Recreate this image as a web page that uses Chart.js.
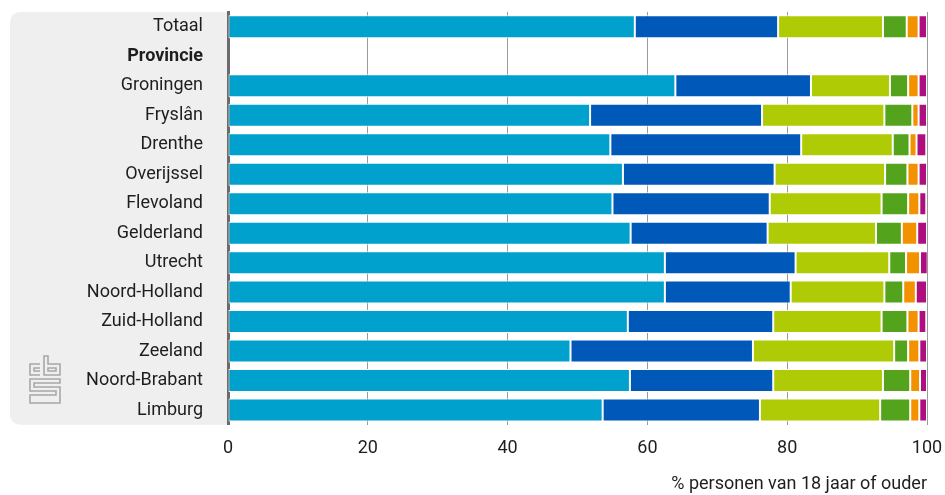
<!DOCTYPE html>
<html>
<head>
<meta charset="utf-8">
<script src="https://cdn.jsdelivr.net/npm/chart.js@4"></script>
<style>
  html, body { margin: 0; padding: 0; background: #fff; }
  #wrap { width: 945px; height: 495px; }
</style>
</head>
<body>
<div id="wrap"><canvas id="chart" width="945" height="495"></canvas></div>
<script>
const categories = ["Totaal", "Provincie", "Groningen", "Fryslân", "Drenthe", "Overijssel", "Flevoland",
  "Gelderland", "Utrecht", "Noord-Holland", "Zuid-Holland", "Zeeland", "Noord-Brabant", "Limburg"];

// six stacked parts per row, header row "Provincie" has no data
const serie1 = [58.2, null, 64.0, 51.8, 54.7, 56.5, 55.0, 57.6, 62.5, 62.5, 57.2, 49.0, 57.5, 53.6];
const serie2 = [20.5, null, 19.4, 24.6, 27.3, 21.7, 22.5, 19.6, 18.7, 18.0, 20.8, 26.1, 20.5, 22.5];
const serie3 = [15.0, null, 11.3, 17.5, 13.1, 15.8, 16.0, 15.5, 13.4, 13.4, 15.5, 20.2, 15.7, 17.2];
const serie4 = [3.4, null, 2.6, 4.0, 2.4, 3.2, 3.8, 3.7, 2.4, 2.7, 3.7, 2.0, 3.9, 4.3];
const serie5 = [1.7, null, 1.5, 0.9, 1.0, 1.6, 1.6, 2.2, 2.0, 1.8, 1.6, 1.6, 1.4, 1.3];
const serie6 = [1.2, null, 1.2, 1.2, 1.4, 1.2, 1.0, 1.4, 1.1, 1.6, 1.1, 1.1, 1.0, 1.1];

const xTicks = [0, 20, 40, 60, 80, 100];
const axisTitle = "% personen van 18 jaar of ouder";

const colors = ["#00a1cd", "#0058b8", "#afcb05", "#53a31d", "#f39200", "#af0e80"];
const series = [serie1, serie2, serie3, serie4, serie5, serie6];

const FONT = "Roboto, 'Noto Sans', sans-serif";

// grey label panel and cbs logo behind the category labels
const panelPlugin = {
  id: "panel",
  beforeDraw(chart) {
    const c = chart.ctx;
    const a = chart.chartArea;
    c.save();
    c.fillStyle = "#efefef";
    c.beginPath();
    c.roundRect(10, a.top, a.left - 10, a.bottom - a.top, [10, 0, 0, 10]);
    c.fill();

    // logo
    c.strokeStyle = "#a8a8a8";
    c.lineWidth = 1.6;
    c.beginPath();
    // c
    c.moveTo(40, 364); c.lineTo(30, 364); c.lineTo(30, 375); c.lineTo(40, 375);
    c.moveTo(40, 368); c.lineTo(34, 368); c.lineTo(34, 371); c.lineTo(40, 371);
    // b
    c.moveTo(44, 356); c.lineTo(44, 375); c.lineTo(60, 375); c.lineTo(60, 364); c.lineTo(48, 364); c.lineTo(48, 356); c.closePath();
    c.moveTo(48, 368); c.lineTo(56, 368); c.lineTo(56, 371); c.lineTo(48, 371); c.closePath();
    // s
    c.moveTo(60, 379); c.lineTo(30, 379); c.lineTo(30, 391); c.lineTo(56, 391); c.lineTo(56, 395);
    c.lineTo(30, 395); c.lineTo(30, 403); c.lineTo(60, 403); c.lineTo(60, 387); c.lineTo(34, 387);
    c.lineTo(34, 383); c.lineTo(60, 383); c.closePath();
    c.stroke();
    c.restore();
  }
};

new Chart(document.getElementById("chart"), {
  type: "bar",
  data: {
    labels: categories,
    datasets: series.map((d, i) => ({
      label: "serie " + (i + 1),
      data: d,
      backgroundColor: colors[i],
      borderColor: "#ffffff",
      borderWidth: 1,
      borderSkipped: false,
      categoryPercentage: 1,
      barPercentage: 0.78
    }))
  },
  options: {
    indexAxis: "y",
    responsive: false,
    animation: false,
    layout: { padding: { top: 12, right: 18, bottom: 0, left: 0 } },
    plugins: {
      legend: { display: false },
      tooltip: { enabled: true }
    },
    scales: {
      x: {
        stacked: true,
        min: 0,
        max: 100,
        afterBuildTicks(scale) {
          scale.ticks = xTicks.map(v => ({ value: v }));
        },
        grid: { color: "#9a9a9a", tickColor: "transparent", drawTicks: true, tickLength: 13, lineWidth: 1 },
        border: { display: false },
        ticks: { color: "#1e1e1e", padding: 0, font: { family: FONT, size: 18 } },
        title: {
          display: true,
          text: axisTitle,
          align: "end",
          color: "#1e1e1e",
          padding: { top: 14, bottom: 0 },
          font: { family: FONT, size: 18 }
        }
      },
      y: {
        stacked: true,
        afterFit(scale) { scale.width = 228; },
        grid: { display: false, drawTicks: true, tickLength: 25 },
        border: { display: true, color: "#6b6b6b", width: 3 },
        ticks: {
          color: "#1e1e1e",
          padding: 0,
          autoSkip: false,
          font: ctx => ({
            family: FONT,
            size: 18,
            weight: categories[ctx.index] === "Provincie" ? "bold" : "normal"
          })
        }
      }
    }
  },
  plugins: [panelPlugin]
});
</script>
</body>
</html>
